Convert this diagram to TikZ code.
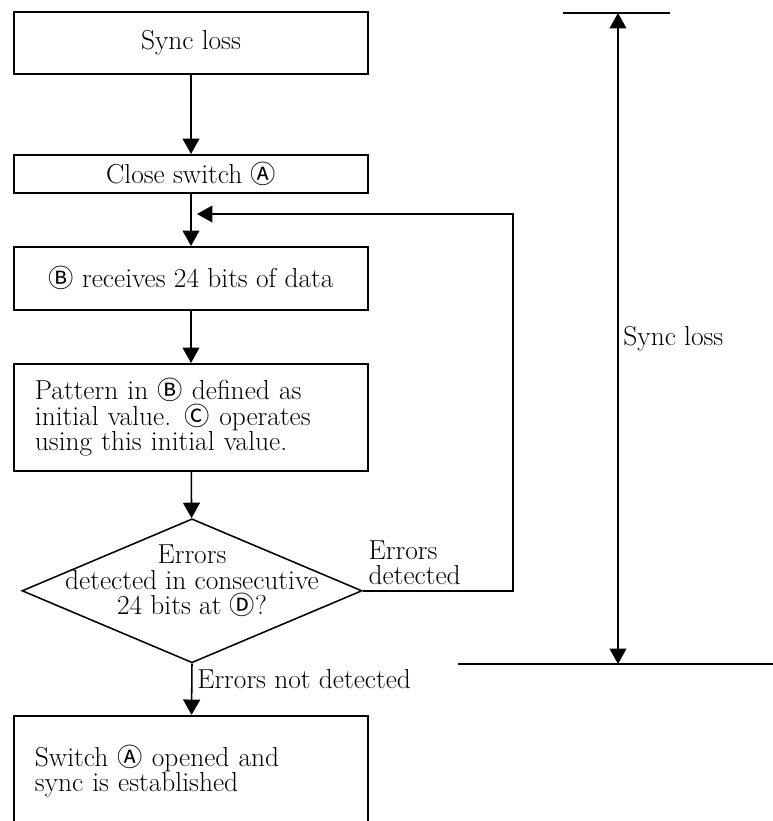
\documentclass[tikz,border=0pt]{standalone}
\usepackage{fontspec}
\usetikzlibrary{arrows.meta,shapes.geometric}
\newfontfamily\circfont{Noto Sans CJK JP}
\newcommand{\encl}[1]{{\circfont\fontsize{18}{18}\selectfont #1}}

\tikzset{
  box/.style={draw, line width=1.1pt, minimum width=8.85cm, anchor=north, inner sep=0pt},
  decision/.style={draw, diamond, line width=1.1pt, minimum width=8.5cm, minimum height=3.6cm, inner sep=0pt, anchor=north},
  flow/.style={line width=1.1pt, -{Triangle[length=11pt,width=12pt]}},
  span/.style={line width=1.1pt, {Triangle[length=11pt,width=12pt]}-{Triangle[length=11pt,width=12pt]}}
}

\begin{document}
\begin{tikzpicture}[x=0.025cm, y=-0.025cm, font=\fontsize{19.5}{18}\selectfont]
  \clip (0,0) rectangle (773,821);
  % main column
  \node[box, minimum height=1.55cm] (sync) at (191,11) {Sync loss};
  \node[box, minimum height=0.95cm] (close) at (191,154) {Close switch \encl{Ⓐ}};
  \node[box, minimum height=1.575cm] (recv) at (191,246) {\encl{Ⓑ} receives 24 bits of data};
  \node[box, minimum height=2.675cm, text width=7.8cm, align=left] (pattern) at (191,363)
    {Pattern in \encl{Ⓑ} defined as\\ initial value. \encl{Ⓒ} operates\\ using this initial value.};
  \node[decision] (check) at (192,518) {};
  \node[align=center] (checktxt) at (192,581)
    {Errors\\ detected in consecutive\\ 24 bits at \encl{Ⓓ}?};
  \node[box, minimum height=2.75cm, text width=7.8cm, align=left] (est) at (191,715)
    {Switch \encl{Ⓐ} opened and\\ sync is established};

  \draw[flow] (sync) -- (close);
  \draw[flow] (close) -- (recv);
  \draw[flow] (recv) -- (pattern);
  \draw[flow] (pattern) -- (check);
  \draw[flow] (check.south) -- node[right, pos=0.3] (nolbl) {Errors not detected} (est);

  % retry loop
  \coordinate (join) at (197,214);
  \draw[flow] (check.east) -- ++(150,0) |- (join);
  \node[anchor=south west, align=left, inner sep=4pt] (errlbl) at (check.east)
    {Errors\\ detected};

  % duration of the loss
  \coordinate (losstop) at (618,13);
  \coordinate (lossbot) at (618,664);
  \draw[line width=1.1pt] (563,13) -- (losstop) -- (670,13);
  \draw[line width=1.1pt] (458,664) -- (lossbot) -- (773,664);
  \draw[span] (losstop) -- node[right] (losslbl) {Sync loss} (lossbot);
\end{tikzpicture}
\end{document}
